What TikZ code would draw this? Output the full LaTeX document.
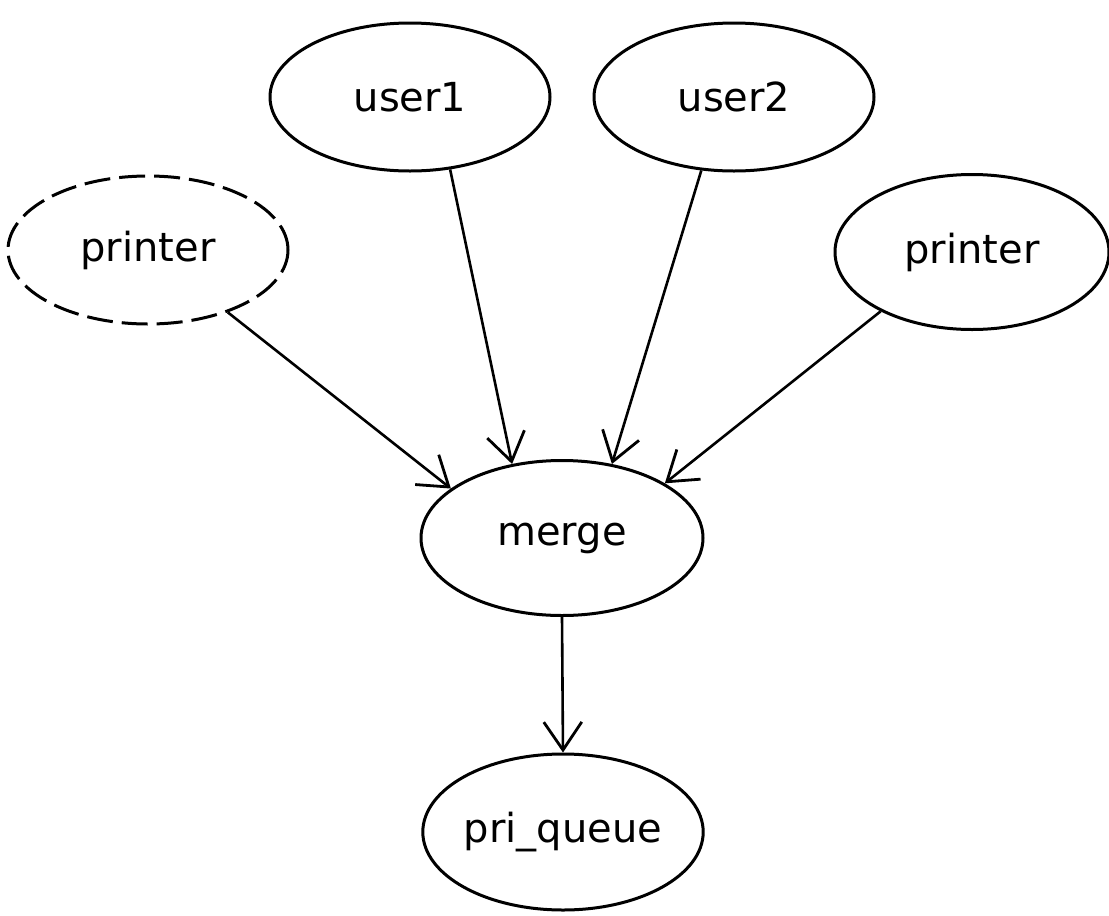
\documentclass[tikz,border=0pt]{standalone}
\usepackage{fontspec}
\setmainfont{DejaVu Sans}
\usetikzlibrary{arrows.meta,shapes.geometric}
\begin{document}
\begin{tikzpicture}[x=1pt,y=-1pt,
  proc/.style={ellipse,draw,line width=3pt,inner sep=0pt,
    minimum width=280pt,minimum height=148pt,font=\fontsize{40}{48}\selectfont},
  dashedproc/.style={proc,dash pattern=on 26pt off 9pt},
  flow/.style={line width=2.6pt,
    -{Straight Barb[length=28pt,width=38pt,line width=2.8pt]}}]
\useasboundingbox (0,0) rectangle (1109,916);
\node[proc] (user1) at (410,97) {user1};
\node[proc] (user2) at (734,97) {user2};
\node[dashedproc] (lprinter) at (148,250) {printer};
\node[proc,minimum width=274pt,minimum height=155pt] (rprinter) at (972,252) {printer};
\node[proc,minimum width=282pt,minimum height=155pt] (merge) at (562,538) {merge};
\node[proc,minimum width=278pt,minimum height=156pt] (pq) at (563,832) {pri\_queue};
\draw[flow] (lprinter.-38) -- (merge.156);
\draw[flow] (user1.-61) -- (merge.124);
\draw[flow] (user2.-114) -- (merge.56);
\draw[flow] (rprinter.-147) -- (merge.28);
\draw[flow] (merge.south) -- (pq.north);
\end{tikzpicture}
\end{document}
